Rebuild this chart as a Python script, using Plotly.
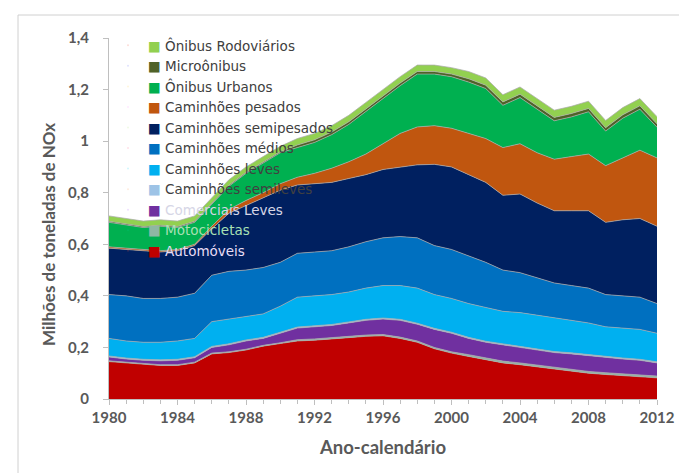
import plotly.graph_objects as go

years = list(range(1980, 2013))

automoveis = [0.145, 0.14, 0.135, 0.13, 0.13, 0.14, 0.175, 0.18, 0.19, 0.205, 0.215,
              0.225, 0.228, 0.232, 0.238, 0.243, 0.245, 0.235, 0.22, 0.195, 0.178,
              0.165, 0.152, 0.14, 0.133, 0.125, 0.115, 0.108, 0.10, 0.095, 0.09, 0.087, 0.082]
motocicletas = [0.003] * 11 + [0.005] * 10 + [0.007] * 12
comerciais_leves = [0.015, 0.012, 0.012, 0.015, 0.017, 0.017, 0.022, 0.027, 0.032, 0.027, 0.037,
                    0.045, 0.047, 0.048, 0.052, 0.057, 0.06, 0.065, 0.065, 0.07, 0.072,
                    0.063, 0.061, 0.063, 0.06, 0.058, 0.058, 0.06, 0.061, 0.058, 0.058, 0.056, 0.051]
cam_semileves = [0.004] * 33
cam_leves = [0.068, 0.066, 0.066, 0.068, 0.071, 0.071, 0.096, 0.096, 0.091, 0.091, 0.101,
             0.116, 0.116, 0.116, 0.116, 0.121, 0.126, 0.131, 0.136, 0.131, 0.131,
             0.131, 0.131, 0.126, 0.131, 0.131, 0.131, 0.126, 0.123, 0.116, 0.116, 0.116, 0.111]
cam_medios = [0.17, 0.175, 0.17, 0.17, 0.17, 0.175, 0.18, 0.185, 0.18, 0.18, 0.17,
              0.17, 0.17, 0.17, 0.175, 0.18, 0.185, 0.19, 0.195, 0.19, 0.19,
              0.185, 0.175, 0.16, 0.155, 0.145, 0.135, 0.135, 0.135, 0.125, 0.125, 0.125, 0.115]
cam_semipesados = [0.18, 0.18, 0.185, 0.18, 0.18, 0.185, 0.18, 0.225, 0.25, 0.27, 0.28,
                   0.265, 0.265, 0.265, 0.265, 0.26, 0.265, 0.27, 0.283, 0.315, 0.32,
                   0.315, 0.31, 0.29, 0.305, 0.29, 0.28, 0.29, 0.30, 0.28, 0.295, 0.305, 0.30]
cam_pesados = [0.005, 0.005, 0.005, 0.005, 0.005, 0.005, 0.01, 0.015, 0.02, 0.02, 0.025,
               0.03, 0.04, 0.055, 0.065, 0.08, 0.10, 0.13, 0.147, 0.15, 0.15,
               0.16, 0.17, 0.185, 0.195, 0.195, 0.20, 0.21, 0.22, 0.22, 0.24, 0.265, 0.265]
onibus_urbanos = [0.095, 0.09, 0.085, 0.095, 0.085, 0.085, 0.085, 0.09, 0.105, 0.115, 0.12,
                  0.115, 0.12, 0.13, 0.145, 0.165, 0.175, 0.185, 0.205, 0.20, 0.20,
                  0.199, 0.194, 0.164, 0.179, 0.169, 0.149, 0.154, 0.164, 0.134, 0.154, 0.159, 0.119]
microonibus = [0.004] * 11 + [0.01] * 10 + [0.013] * 12
onibus_rodoviarios = [0.021] * 11 + [0.025] * 10 + [0.028] * 12

series = [
    ("Automóveis", automoveis, "#C00000", "#E8DDF5"),
    ("Motocicletas", motocicletas, "#8FB7A3", "#A8E0B4"),
    ("Comerciais Leves", comerciais_leves, "#7030A0", "#D6D6E6"),
    ("Caminhões semileves", cam_semileves, "#9DC3E6", "#404040"),
    ("Caminhões leves", cam_leves, "#00B0F0", "#404040"),
    ("Caminhões médios", cam_medios, "#0070C0", "#404040"),
    ("Caminhões semipesados", cam_semipesados, "#002060", "#404040"),
    ("Caminhões pesados", cam_pesados, "#C0560F", "#404040"),
    ("Ônibus Urbanos", onibus_urbanos, "#00B050", "#404040"),
    ("Microônibus", microonibus, "#4F6228", "#404040"),
    ("Ônibus Rodoviários", onibus_rodoviarios, "#92D050", "#404040"),
]

fig = go.Figure()
for name, vals, color, tcol in series:
    fig.add_trace(go.Scatter(
        x=years, y=vals, name=name, stackgroup="one", mode="lines",
        line=dict(width=0.8, color="rgba(170,170,170,0.9)"),
        fillcolor=color, showlegend=False, hoverinfo="skip"))
for name, vals, color, tcol in series:
    fig.add_trace(go.Scatter(
        x=[None], y=[None], mode="markers",
        marker=dict(size=1, opacity=0),
        name=("<span style='color:%s'>■</span> "
              "<span style='color:%s'>%s</span>") % (color, tcol, name),
        showlegend=True))

L, R, T, B = 101, 38, 30, 82
W, H = 687, 473
pw, ph = W - L - R, H - T - B

def px_x(p):
    return (p - L) / pw

def px_y(p):
    return (H - B - p) / ph

fig.update_layout(
    width=W, height=H,
    margin=dict(l=L, r=R, t=T, b=B),
    paper_bgcolor="white", plot_bgcolor="white",
    separators=", ",
    font=dict(family="Lato", color="#595959"),
    showlegend=True,
    legend=dict(
        x=px_x(100), y=px_y(22), xanchor="left", yanchor="top",
        traceorder="reversed", bgcolor="rgba(0,0,0,0)",
        font=dict(family="DejaVu Sans", size=13.5, color="#404040"),
        itemwidth=30, tracegroupgap=0, maxheight=420,
    ),
    xaxis=dict(
        range=[1980, 2012], tickmode="array",
        tickvals=list(range(1980, 2013, 4)),
        ticks="outside", ticklen=5, tickcolor="#BFBFBF",
        minor=dict(tickmode="linear", dtick=1, ticks="outside", ticklen=4, tickcolor="#BFBFBF"),
        showline=True, linecolor="#BFBFBF", showgrid=False, zeroline=False,
        tickfont=dict(family="Lato", size=15, color="#595959", weight="bold"),
        title=dict(text="Ano-calendário", font=dict(family="Lato", size=18.5, color="#595959", weight="bold"), standoff=16),
    ),
    yaxis=dict(
        range=[0, 1.4], tickmode="array",
        tickvals=[0, 0.2, 0.4, 0.6, 0.8, 1, 1.2, 1.4],
        ticks="outside", ticklen=5, tickcolor="#BFBFBF",
        ticklabelstandoff=11,
        showline=True, linecolor="#BFBFBF", showgrid=False, zeroline=False,
        tickfont=dict(family="Lato", size=15, color="#595959", weight="bold"),
    ),
    annotations=[dict(text="Milhões de toneladas de NOx", textangle=-90,
                      xref="paper", yref="paper", x=px_x(40), y=px_y(227),
                      xanchor="center", yanchor="middle", showarrow=False,
                      font=dict(family="Lato", size=17, color="#595959", weight="bold"))],
    shapes=[dict(type="rect", xref="paper", yref="paper",
                 x0=px_x(10), x1=px_x(683), y0=px_y(468), y1=px_y(7),
                 line=dict(color="#D0D0D0", width=1), fillcolor="rgba(0,0,0,0)", layer="below")],
)

fig.write_html("out.html")
